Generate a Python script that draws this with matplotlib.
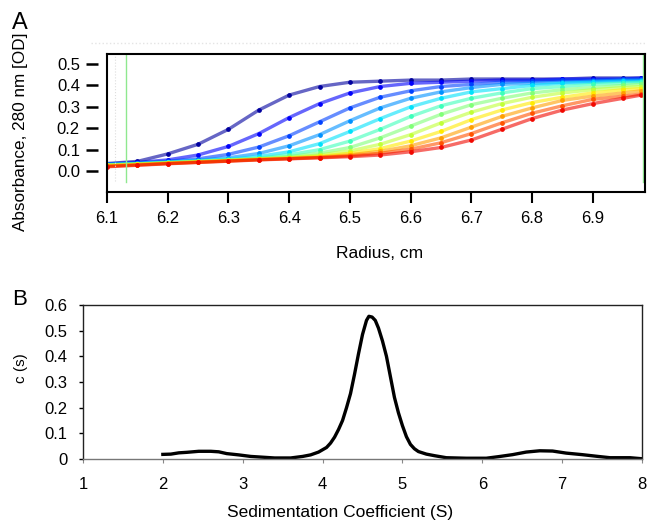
import matplotlib
matplotlib.use("Agg")
import matplotlib.pyplot as plt
import numpy as np

plt.rcParams["font.family"] = ["Liberation Sans", "DejaVu Sans"]

# ---- panel A: absorbance scans (every 0.05 cm) ----
radius = [6.10, 6.15, 6.20, 6.25, 6.30, 6.35, 6.40, 6.45, 6.50, 6.55,
          6.60, 6.65, 6.70, 6.75, 6.80, 6.85, 6.90, 6.95, 6.98]

scans = [
    [0.035, 0.045, 0.080, 0.125, 0.195, 0.285, 0.355, 0.395, 0.415, 0.420, 0.425, 0.425, 0.430, 0.430, 0.430, 0.430, 0.435, 0.435, 0.435],
    [0.033, 0.040, 0.052, 0.075, 0.115, 0.175, 0.250, 0.315, 0.365, 0.395, 0.410, 0.415, 0.420, 0.425, 0.425, 0.430, 0.430, 0.430, 0.435],
    [0.032, 0.038, 0.046, 0.057, 0.078, 0.112, 0.165, 0.230, 0.295, 0.345, 0.375, 0.395, 0.405, 0.415, 0.420, 0.425, 0.425, 0.430, 0.430],
    [0.031, 0.036, 0.043, 0.051, 0.062, 0.082, 0.118, 0.170, 0.235, 0.295, 0.340, 0.370, 0.390, 0.405, 0.410, 0.415, 0.420, 0.425, 0.425],
    [0.030, 0.035, 0.041, 0.048, 0.056, 0.068, 0.090, 0.128, 0.185, 0.245, 0.300, 0.340, 0.370, 0.385, 0.400, 0.410, 0.415, 0.420, 0.420],
    [0.029, 0.034, 0.040, 0.046, 0.053, 0.061, 0.076, 0.100, 0.140, 0.195, 0.255, 0.305, 0.340, 0.365, 0.385, 0.395, 0.405, 0.410, 0.415],
    [0.028, 0.033, 0.039, 0.045, 0.051, 0.058, 0.068, 0.084, 0.110, 0.155, 0.210, 0.265, 0.310, 0.340, 0.365, 0.380, 0.390, 0.400, 0.405],
    [0.027, 0.032, 0.038, 0.044, 0.050, 0.056, 0.063, 0.075, 0.094, 0.125, 0.170, 0.225, 0.275, 0.315, 0.345, 0.365, 0.380, 0.390, 0.395],
    [0.026, 0.031, 0.037, 0.043, 0.049, 0.055, 0.061, 0.069, 0.083, 0.105, 0.140, 0.185, 0.240, 0.285, 0.320, 0.345, 0.365, 0.380, 0.385],
    [0.024, 0.030, 0.036, 0.042, 0.048, 0.054, 0.059, 0.065, 0.076, 0.092, 0.118, 0.155, 0.205, 0.255, 0.295, 0.330, 0.350, 0.365, 0.375],
    [0.022, 0.028, 0.035, 0.041, 0.047, 0.053, 0.058, 0.063, 0.071, 0.083, 0.102, 0.132, 0.175, 0.225, 0.270, 0.305, 0.335, 0.350, 0.360],
    [0.020, 0.027, 0.034, 0.040, 0.046, 0.052, 0.057, 0.062, 0.067, 0.075, 0.090, 0.110, 0.145, 0.195, 0.245, 0.285, 0.315, 0.340, 0.355],
]

meniscus_r = [6.132, 6.983]
xticks_a = [6.1, 6.2, 6.3, 6.4, 6.5, 6.6, 6.7, 6.8, 6.9]
yticks_a = [0.0, 0.1, 0.2, 0.3, 0.4, 0.5]

# ---- panel B: c(s) distribution ----
sed = [2.0, 2.1, 2.2, 2.3, 2.45, 2.6, 2.7, 2.8, 2.95, 3.1, 3.25, 3.4, 3.6,
       3.75, 3.85, 3.95, 4.05, 4.1, 4.15, 4.2, 4.25, 4.3, 4.35, 4.4, 4.45,
       4.5, 4.55, 4.58, 4.62, 4.66, 4.7, 4.75, 4.8, 4.85, 4.9, 4.95, 5.0,
       5.05, 5.1, 5.15, 5.2, 5.3, 5.4, 5.55, 5.8, 6.05, 6.2, 6.38, 6.55,
       6.72, 6.88, 7.05, 7.25, 7.45, 7.6, 7.85, 8.0]
cs = [0.018, 0.019, 0.024, 0.026, 0.030, 0.030, 0.028, 0.021, 0.016, 0.010,
      0.007, 0.004, 0.004, 0.010, 0.016, 0.027, 0.045, 0.062, 0.085, 0.115,
      0.150, 0.200, 0.255, 0.330, 0.410, 0.485, 0.540, 0.556, 0.553, 0.540,
      0.510, 0.460, 0.400, 0.320, 0.240, 0.180, 0.130, 0.087, 0.057, 0.040,
      0.029, 0.019, 0.013, 0.005, 0.003, 0.003, 0.009, 0.017, 0.027, 0.032,
      0.031, 0.023, 0.017, 0.010, 0.005, 0.005, 0.001]
yticks_b = [0, 0.1, 0.2, 0.3, 0.4, 0.5, 0.6]
ytick_labels_b = ["0", "0.1", "0.2", "0.3", "0.4", "0.5", "0.6"]

fig = plt.figure(figsize=(6.47, 5.22), dpi=100)

# ---------------- panel A ----------------
ax = fig.add_axes([107 / 647, 330 / 522, 538 / 647, 138 / 522])
colors = plt.cm.jet(np.linspace(0.03, 0.9, len(scans)))
for a, c in zip(scans, colors):
    ax.plot(radius, a, color=c, lw=2.4, alpha=0.6, solid_capstyle="round")
    ax.plot(radius, a, "o", color=c, ms=2.4)

for r in meniscus_r:
    ax.axvline(r, ymin=0.075, ymax=0.993, color="#8fe88f", lw=1.0)
ax.axvline(6.113, ymin=0.08, ymax=0.99, color="#dddddd", lw=0.8, ls=":")

ax.set_xlim(6.1, 6.986)
ax.set_ylim(-0.098, 0.547)
ax.set_xticks(xticks_a)
ax.set_xticklabels([f"{t:.1f}" for t in xticks_a])
ax.set_yticks(yticks_a)
ax.set_yticklabels([f"{t:.1f}" for t in yticks_a])

for s in ["top", "right", "bottom"]:
    ax.spines[s].set_linewidth(1.5)
ax.spines["left"].set_position(("outward", 6.5))
ax.spines["left"].set_visible(False)
ax.plot([0, 0], [0, 1], transform=ax.transAxes, color="black", lw=1.5,
        clip_on=False, solid_capstyle="projecting")
# faint dotted row above the frame
ax.plot([-0.03, 1.0], [1.083, 1.083], transform=ax.transAxes, color="#e4e4e4",
        lw=1.0, ls=":", clip_on=False)

ax.tick_params(axis="x", direction="out", length=8, width=1.5, pad=6, labelsize=12)
ax.tick_params(axis="y", direction="out", length=8.5, width=1.8, pad=4.5, labelsize=12)
ax.set_xlabel("Radius, cm", fontsize=12.5)
ax.xaxis.set_label_coords(0.506, -0.39)
ax.xaxis.label.set_va("top")
ax.set_ylabel("Absorbance, 280 nm [OD]", fontsize=12.3)
ax.yaxis.set_label_coords(-0.147, 0.44)

fig.text(12 / 647, 1 - 29 / 522, "A", fontsize=17, ha="left", va="baseline")

# ---------------- panel B ----------------
bx = fig.add_axes([83 / 647, 63 / 522, 559 / 647, 154 / 522])
bx.plot(sed, cs, color="black", lw=2.4, solid_joinstyle="round")
bx.set_xlim(1, 8)
bx.set_ylim(0, 0.6)
bx.set_xticks(range(1, 9))
bx.set_yticks(yticks_b)
bx.set_yticklabels(ytick_labels_b)
for s in ["top", "right", "left"]:
    bx.spines[s].set_linewidth(1.0)
    bx.spines[s].set_color("#222222")
bx.spines["bottom"].set_color("#777777")
bx.spines["bottom"].set_linewidth(1.0)
bx.tick_params(axis="x", direction="out", length=3, width=0.8, color="#888888",
               pad=10, labelsize=12)
bx.tick_params(axis="y", direction="out", length=3, width=1.0, pad=8, labelsize=12)
bx.set_xlabel("Sedimentation Coefficient (S)", fontsize=12.5)
bx.xaxis.set_label_coords(0.46, -0.30)
bx.xaxis.label.set_va("top")
bx.set_ylabel("c (s)", fontsize=11)
bx.yaxis.set_label_coords(-0.098, 0.59)

fig.text(12 / 647, 1 - 305 / 522, "B", fontsize=16, ha="left", va="baseline")

fig.savefig("out.png", dpi=100)
